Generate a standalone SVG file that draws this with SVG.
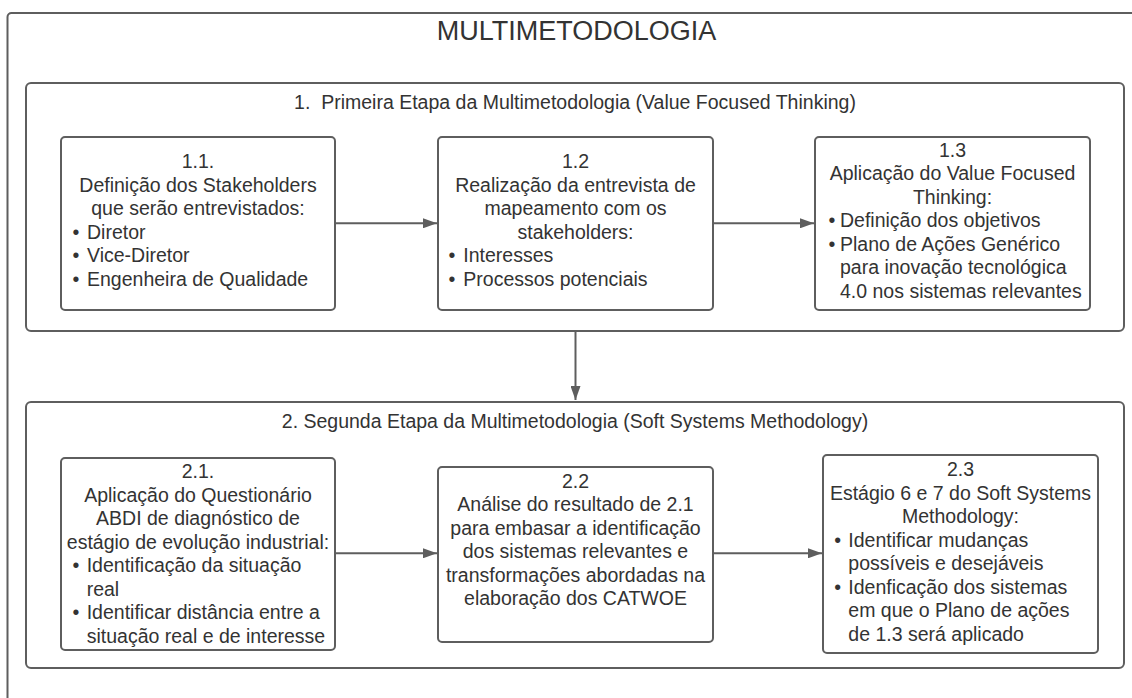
<svg xmlns="http://www.w3.org/2000/svg" width="1132" height="698" viewBox="0 0 1132 698">
  <style>
    .frame { fill: #ffffff; stroke: #5e5e5e; stroke-width: 2; }
    .box { fill: #ffffff; stroke: #5e5e5e; stroke-width: 2; }
    .link { fill: none; stroke: #5e5e5e; stroke-width: 2; }
    .t { font-family: "Liberation Sans", Arial, sans-serif; font-size: 19.5px; fill: #333333; }
    .c { text-anchor: middle; }
    .title { font-family: "Liberation Sans", Arial, sans-serif; font-size: 27px; fill: #333333; text-anchor: middle; }
  </style>
  <defs>
    <marker id="arrow" viewBox="0 0 14 10" refX="14" refY="5" markerWidth="14" markerHeight="10" markerUnits="userSpaceOnUse" orient="auto">
      <path d="M0,0 L14,5 L0,10 Z" fill="#5e5e5e"/>
    </marker>
  </defs>

  <rect width="1132" height="698" fill="#ffffff"/>

  <!-- outer container -->
  <g id="multimetodologia">
    <rect class="frame" x="7.5" y="13" width="1200" height="760" rx="4"/>
    <text class="title" x="576.5" y="39.5">MULTIMETODOLOGIA</text>
  </g>

  <!-- stage 1 -->
  <g id="etapa1">
    <rect class="frame" x="26" y="83" width="1098" height="248" rx="5"/>
    <text class="t c" x="575" y="109.3">1.&#160; Primeira Etapa da Multimetodologia (Value Focused Thinking)</text>
  </g>

  <!-- stage 2 -->
  <g id="etapa2">
    <rect class="frame" x="26" y="402" width="1098" height="266" rx="5"/>
    <text class="t c" x="575" y="428.3">2. Segunda Etapa da Multimetodologia (Soft Systems Methodology)</text>
  </g>

  <g id="n1_1">
    <rect class="box" x="61" y="137" width="274" height="173" rx="4"/>
    <text class="t c" x="198" y="168.3">1.1.</text>
    <text class="t c" x="198" y="191.8">Definição dos Stakeholders</text>
    <text class="t c" x="198" y="215.3">que serão entrevistados:</text>
    <text class="t" x="72.5" y="238.8">•</text>
    <text class="t" x="87" y="238.8">Diretor</text>
    <text class="t" x="72.5" y="262.3">•</text>
    <text class="t" x="87" y="262.3">Vice-Diretor</text>
    <text class="t" x="72.5" y="285.8">•</text>
    <text class="t" x="87" y="285.8">Engenheira de Qualidade</text>
  </g>

  <g id="n1_2">
    <rect class="box" x="438" y="137" width="275" height="173" rx="4"/>
    <text class="t c" x="575.5" y="168.3">1.2</text>
    <text class="t c" x="575.5" y="191.8">Realização da entrevista de</text>
    <text class="t c" x="575.5" y="215.3">mapeamento com os</text>
    <text class="t c" x="575.5" y="238.8">stakeholders:</text>
    <text class="t" x="448.5" y="262.3">•</text>
    <text class="t" x="463.3" y="262.3">Interesses</text>
    <text class="t" x="448.5" y="285.8">•</text>
    <text class="t" x="463.3" y="285.8">Processos potenciais</text>
  </g>

  <g id="n1_3">
    <rect class="box" x="815" y="137" width="275" height="173" rx="4"/>
    <text class="t c" x="952.5" y="156.7">1.3</text>
    <text class="t c" x="952.5" y="180.2">Aplicação do Value Focused</text>
    <text class="t c" x="952.5" y="203.7">Thinking:</text>
    <text class="t" x="828.5" y="227.2">•</text>
    <text class="t" x="840" y="227.2">Definição dos objetivos</text>
    <text class="t" x="828.5" y="250.7">•</text>
    <text class="t" x="840" y="250.7">Plano de Ações Genérico</text>
    <text class="t" x="840" y="274.2">para inovação tecnológica</text>
    <text class="t" x="840" y="297.7">4.0 nos sistemas relevantes</text>
  </g>

  <g id="n2_1">
    <rect class="box" x="61" y="458" width="274" height="192" rx="4"/>
    <text class="t c" x="198" y="478.3">2.1.</text>
    <text class="t c" x="198" y="501.8">Aplicação do Questionário</text>
    <text class="t c" x="198" y="525.3">ABDI de diagnóstico de</text>
    <text class="t c" x="198" y="548.8">estágio de evolução industrial:</text>
    <text class="t" x="72.5" y="572.3">•</text>
    <text class="t" x="86.7" y="572.3">Identificação da situação</text>
    <text class="t" x="86.7" y="595.8">real</text>
    <text class="t" x="72.5" y="619.3">•</text>
    <text class="t" x="86.7" y="619.3">Identificar distância entre a</text>
    <text class="t" x="86.7" y="642.8">situação real e de interesse</text>
  </g>

  <g id="n2_2">
    <rect class="box" x="438" y="467" width="275" height="175" rx="4"/>
    <text class="t c" x="575.5" y="487.7">2.2</text>
    <text class="t c" x="575.5" y="511.2">Análise do resultado de 2.1</text>
    <text class="t c" x="575.5" y="534.7">para embasar a identificação</text>
    <text class="t c" x="575.5" y="558.2">dos sistemas relevantes e</text>
    <text class="t c" x="575.5" y="581.7">transformações abordadas na</text>
    <text class="t c" x="575.5" y="605.2">elaboração dos CATWOE</text>
  </g>

  <g id="n2_3">
    <rect class="box" x="823" y="455" width="275" height="198" rx="4"/>
    <text class="t c" x="960.5" y="476">2.3</text>
    <text class="t c" x="960.5" y="499.5">Estágio 6 e 7 do Soft Systems</text>
    <text class="t c" x="960.5" y="523">Methodology:</text>
    <text class="t" x="834.3" y="546.5">•</text>
    <text class="t" x="848.3" y="546.5">Identificar mudanças</text>
    <text class="t" x="848.3" y="570">possíveis e desejáveis</text>
    <text class="t" x="834.3" y="593.5">•</text>
    <text class="t" x="848.3" y="593.5">Idenficação dos sistemas</text>
    <text class="t" x="848.3" y="617">em que o Plano de ações</text>
    <text class="t" x="848.3" y="640.5">de 1.3 será aplicado</text>
  </g>

  <!-- connectors -->
  <g id="connectors">
    <line class="link" x1="335" y1="223.3" x2="437" y2="223.3" marker-end="url(#arrow)"/>
    <line class="link" x1="713" y1="223.3" x2="814" y2="223.3" marker-end="url(#arrow)"/>
    <line class="link" x1="575.5" y1="331" x2="575.5" y2="400" marker-end="url(#arrow)"/>
    <line class="link" x1="335" y1="553.3" x2="437" y2="553.3" marker-end="url(#arrow)"/>
    <line class="link" x1="713" y1="553.3" x2="822" y2="553.3" marker-end="url(#arrow)"/>
  </g>
</svg>
